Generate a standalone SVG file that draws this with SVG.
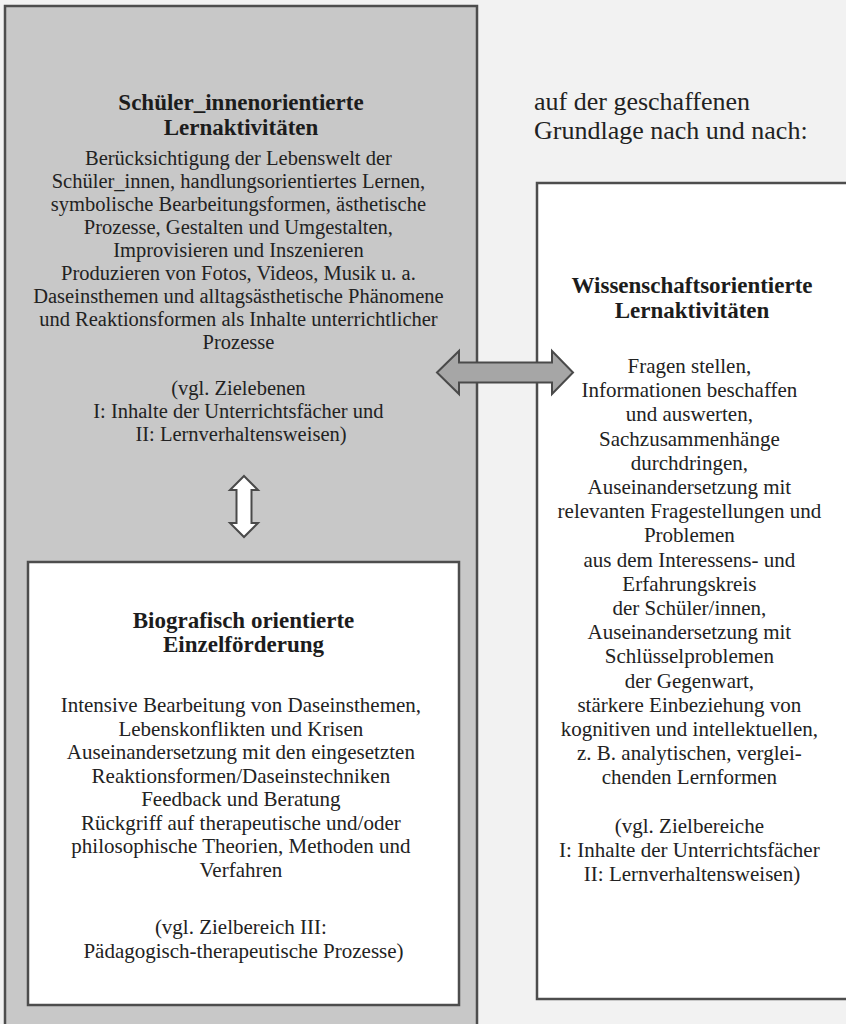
<svg xmlns="http://www.w3.org/2000/svg" width="846" height="1024" viewBox="0 0 846 1024">
<style>
.t{font-family:"Liberation Serif","Times New Roman",serif;fill:#222;text-anchor:middle}
.h{font-size:23px;font-weight:bold;fill:#1c1c1c}
.b{font-size:21px}
.bs{font-size:20.5px}
.box{stroke:#4d4d4d;stroke-width:2.5}
.arr{stroke:#4a4a4a;stroke-width:2;stroke-linejoin:miter}
</style>
<rect x="0" y="0" width="846" height="1024" fill="#f2f2f2"/>
<g id="node-schueler">
<rect class="box" x="5" y="6" width="472" height="1040" fill="#c8c8c8"/>
<text class="t h"><tspan x="241" y="110">Schüler_innenorientierte</tspan><tspan x="241" y="135">Lernaktivitäten</tspan></text>
<text class="t bs">
<tspan x="241" y="165">Berücksichtigung der Lebenswelt der</tspan>
<tspan x="241" y="188">Schüler_innen, handlungsorientiertes Lernen,</tspan>
<tspan x="241" y="211">symbolische Bearbeitungsformen, ästhetische</tspan>
<tspan x="241" y="234">Prozesse, Gestalten und Umgestalten,</tspan>
<tspan x="241" y="257">Improvisieren und Inszenieren</tspan>
<tspan x="241" y="280">Produzieren von Fotos, Videos, Musik u. a.</tspan>
<tspan x="241" y="303">Daseinsthemen und alltagsästhetische Phänomene</tspan>
<tspan x="241" y="326">und Reaktionsformen als Inhalte unterrichtlicher</tspan>
<tspan x="241" y="349">Prozesse</tspan>
<tspan x="241" y="395">(vgl. Zielebenen</tspan>
<tspan x="241" y="418">I: Inhalte der Unterrichtsfächer und</tspan>
<tspan x="241" y="441">II: Lernverhaltensweisen)</tspan>
</text>
</g>
<g id="node-biografisch">
<rect class="box" x="28" y="562" width="431" height="443" fill="#ffffff"/>
<text class="t h"><tspan x="243.5" y="628">Biografisch orientierte</tspan><tspan x="243.5" y="652">Einzelförderung</tspan></text>
<text class="t b">
<tspan x="243.5" y="712">Intensive Bearbeitung von Daseinsthemen,</tspan>
<tspan x="243.5" y="735.5">Lebenskonflikten und Krisen</tspan>
<tspan x="243.5" y="759">Auseinandersetzung mit den eingesetzten</tspan>
<tspan x="243.5" y="782.5">Reaktionsformen/Daseinstechniken</tspan>
<tspan x="243.5" y="806">Feedback und Beratung</tspan>
<tspan x="243.5" y="829.5">Rückgriff auf therapeutische und/oder</tspan>
<tspan x="243.5" y="853">philosophische Theorien, Methoden und</tspan>
<tspan x="243.5" y="876.5">Verfahren</tspan>
<tspan x="243.5" y="934">(vgl. Zielbereich III:</tspan>
<tspan x="243.5" y="958">Pädagogisch-therapeutische Prozesse)</tspan>
</text>
</g>
<g id="label-grundlage">
<text font-family="Liberation Serif, Times New Roman, serif" font-size="26" fill="#222"><tspan x="534" y="110">auf der geschaffenen</tspan><tspan x="534" y="139">Grundlage nach und nach:</tspan></text>
</g>
<g id="node-wissenschaft">
<rect class="box" x="537" y="183" width="330" height="816" fill="#ffffff"/>
<text class="t h"><tspan x="692" y="293">Wissenschaftsorientierte</tspan><tspan x="692" y="318">Lernaktivitäten</tspan></text>
<text class="t b">
<tspan x="692" y="373">Fragen stellen,</tspan>
<tspan x="692" y="397.2">Informationen beschaffen</tspan>
<tspan x="692" y="421.4">und auswerten,</tspan>
<tspan x="692" y="445.6">Sachzusammenhänge</tspan>
<tspan x="692" y="469.8">durchdringen,</tspan>
<tspan x="692" y="494">Auseinandersetzung mit</tspan>
<tspan x="692" y="518.2">relevanten Fragestellungen und</tspan>
<tspan x="692" y="542.4">Problemen</tspan>
<tspan x="692" y="566.6">aus dem Interessens- und</tspan>
<tspan x="692" y="590.8">Erfahrungskreis</tspan>
<tspan x="692" y="615">der Schüler/innen,</tspan>
<tspan x="692" y="639.2">Auseinandersetzung mit</tspan>
<tspan x="692" y="663.4">Schlüsselproblemen</tspan>
<tspan x="692" y="687.6">der Gegenwart,</tspan>
<tspan x="692" y="711.8">stärkere Einbeziehung von</tspan>
<tspan x="692" y="736">kognitiven und intellektuellen,</tspan>
<tspan x="692" y="760.2">z. B. analytischen, verglei-</tspan>
<tspan x="692" y="784.4">chenden Lernformen</tspan>
<tspan x="692" y="832.8">(vgl. Zielbereiche</tspan>
<tspan x="692" y="857">I: Inhalte der Unterrichtsfächer</tspan>
<tspan x="692" y="881.2">II: Lernverhaltensweisen)</tspan>
</text>
</g>
<g id="connectors">
<polygon class="arr" fill="#a6a6a6" points="437,372.5 459,351 459,362.5 552,362.5 552,351 573,372.5 552,394 552,382.5 459,382.5 459,394"/>
<polygon class="arr" fill="#ffffff" points="244,476 258,490 251.5,490 251.5,523 258,523 244,537 230,523 236.5,523 236.5,490 230,490"/>
</g>
</svg>
